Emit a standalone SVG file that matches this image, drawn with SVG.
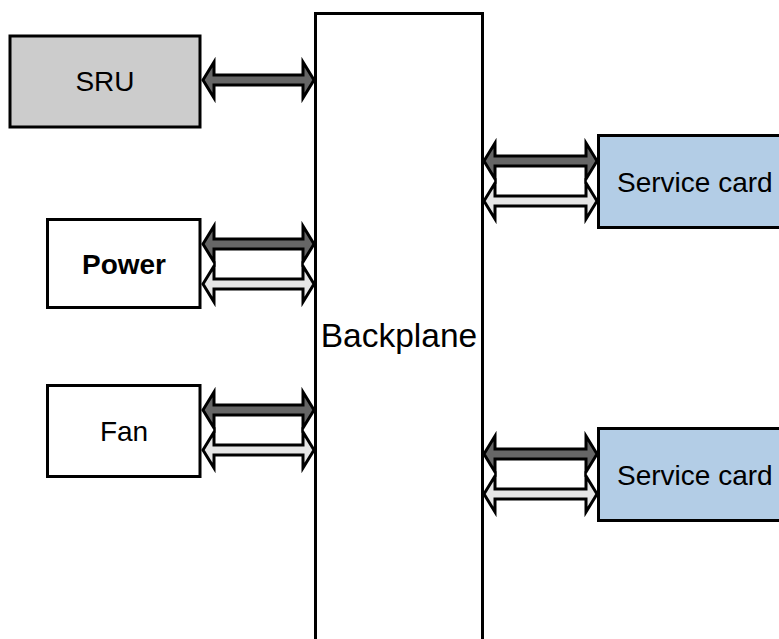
<svg xmlns="http://www.w3.org/2000/svg" width="779" height="639" viewBox="0 0 779 639">
<style>
.box{stroke:#000;stroke-width:3}
.lbl{font-family:"Liberation Sans",Arial,sans-serif;font-size:28px;fill:#000;dominant-baseline:central}
.ad{fill:#666;stroke:#000;stroke-width:3;stroke-linejoin:miter;stroke-miterlimit:10}
.al{fill:#e6e6e6;stroke:#000;stroke-width:3;stroke-linejoin:miter;stroke-miterlimit:10}
</style>
<rect width="779" height="639" fill="#fff"/>
<g id="backplane">
<rect class="box" x="315.5" y="13.5" width="167" height="640" fill="#fff"/>
<text class="lbl" x="399" y="335" text-anchor="middle" style="font-size:33.5px">Backplane</text>
</g>
<g id="sru">
<rect class="box" x="10" y="36" width="190" height="91" fill="#ccc"/>
<text class="lbl" x="105" y="81" text-anchor="middle">SRU</text>
</g>
<g id="power">
<rect class="box" x="47.5" y="219.5" width="152.5" height="88" fill="#fff"/>
<text class="lbl" x="124" y="264" text-anchor="middle" font-weight="bold">Power</text>
</g>
<g id="fan">
<rect class="box" x="47.5" y="385.5" width="152.5" height="91" fill="#fff"/>
<text class="lbl" x="124" y="431" text-anchor="middle">Fan</text>
</g>
<g id="service1">
<rect class="box" x="598.5" y="135.5" width="200" height="92" fill="#b3cde6"/>
<text class="lbl" x="617" y="182">Service card</text>
</g>
<g id="service2">
<rect class="box" x="598.5" y="428.5" width="200" height="92" fill="#b3cde6"/>
<text class="lbl" x="617" y="475">Service card</text>
</g>
<g id="connectors">
<polygon class="ad" points="203,80 214,62 214,75 303,75 303,62 314,80 303,98 303,85 214,85 214,98"/>
<polygon class="ad" points="203,244 214,226 214,239 303,239 303,226 314,244 303,262 303,249 214,249 214,262"/>
<polygon class="al" points="203,284 214,266 214,279 303,279 303,266 314,284 303,302 303,289 214,289 214,302"/>
<polygon class="ad" points="203,410 214,392 214,405 303,405 303,392 314,410 303,428 303,415 214,415 214,428"/>
<polygon class="al" points="203,450 214,432 214,445 303,445 303,432 314,450 303,468 303,455 214,455 214,468"/>
<polygon class="ad" points="484,161 495,143 495,156 586,156 586,143 597,161 586,179 586,166 495,166 495,179"/>
<polygon class="al" points="484,201 495,183 495,196 586,196 586,183 597,201 586,219 586,206 495,206 495,219"/>
<polygon class="ad" points="484,454 495,436 495,449 586,449 586,436 597,454 586,472 586,459 495,459 495,472"/>
<polygon class="al" points="484,494 495,476 495,489 586,489 586,476 597,494 586,512 586,499 495,499 495,512"/>
</g>
</svg>
